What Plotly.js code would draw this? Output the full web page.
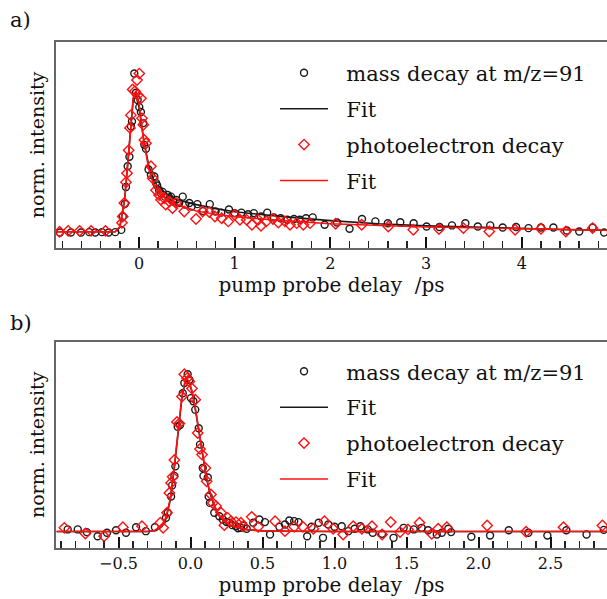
<!DOCTYPE html>
<html>
<head>
<meta charset="utf-8">
<script src="https://cdn.plot.ly/plotly-3.0.1.min.js"></script>
<style>html,body{margin:0;padding:0;background:#fff;}#chart{width:607px;height:599px;}</style>
</head>
<body>
<div id="chart"></div>
<script>
// ---- Panel a) data ----
var aMassX = [-0.826,-0.711,-0.606,-0.519,-0.456,-0.387,-0.317,-0.248,-0.185,-0.17,-0.146,-0.136,-0.118,-0.10,-0.084,-0.073,-0.049,-0.031,-0.014,0.003,0.02,0.045,0.056,0.073,0.10,0.125,0.16,0.178,0.19,0.21,0.23,0.247,0.27,0.30,0.32,0.334,0.36,0.387,0.42,0.457,0.48,0.526,0.55,0.61,0.67,0.74,0.80,0.86,0.94,1.0,1.07,1.14,1.20,1.275,1.34,1.41,1.48,1.55,1.62,1.68,1.745,1.815,1.94,2.07,2.20,2.33,2.47,2.60,2.73,2.87,3.005,3.14,3.27,3.41,3.54,3.67,3.80,3.94,4.07,4.20,4.33,4.47,4.60,4.74,4.86];
var aMassY = [-0.004,-0.004,-0.004,-0.002,-0.004,-0.002,-0.004,-0.002,0.012,0.096,0.175,0.28,0.41,0.47,0.66,0.69,0.99,0.87,0.825,0.78,0.75,0.68,0.544,0.52,0.39,0.356,0.346,0.305,0.29,0.262,0.24,0.25,0.22,0.23,0.21,0.22,0.19,0.20,0.18,0.22,0.17,0.18,0.158,0.173,0.13,0.173,0.127,0.12,0.14,0.117,0.12,0.11,0.117,0.096,0.12,0.09,0.085,0.075,0.08,0.075,0.085,0.09,0.044,0.058,0.019,0.08,0.065,0.054,0.06,0.054,0.033,0.03,0.04,0.054,0.033,0.04,0.027,0.03,0.023,0.027,0.027,0.008,0.002,0.027,-0.004];
var aMassFitX = [-0.87,-0.25,-0.20,-0.15,-0.10,-0.06,-0.04,0.0,0.05,0.10,0.15,0.20,0.30,0.40,0.60,0.80,1.0,1.5,2.0,2.5,3.0,3.5,4.0,4.5,4.9];
var aMassFitY = [0,0,0.03,0.20,0.55,0.83,0.87,0.78,0.57,0.42,0.33,0.28,0.23,0.20,0.17,0.145,0.125,0.095,0.07,0.05,0.037,0.028,0.02,0.013,0.01];
var aPeX = [-0.83,-0.74,-0.62,-0.50,-0.35,-0.178,-0.17,-0.153,-0.136,-0.125,-0.108,-0.094,-0.084,-0.066,-0.042,-0.021,-0.014,0.003,0.021,0.031,0.045,0.056,0.073,0.125,0.143,0.178,0.21,0.23,0.264,0.28,0.317,0.35,0.387,0.473,0.596,0.666,0.735,0.794,0.864,0.933,1.0,1.055,1.125,1.18,1.245,1.275,1.33,1.40,1.456,1.525,1.578,1.648,1.717,1.787,2.055,2.327,2.605,2.866,3.135,3.39,3.66,3.93,4.20,4.46,4.74];
var aPeY = [0.0,0.006,0.006,0.006,0.006,0.056,0.096,0.18,0.31,0.367,0.51,0.65,0.73,0.89,0.88,0.95,0.856,0.99,0.835,0.71,0.67,0.575,0.554,0.41,0.335,0.26,0.23,0.20,0.21,0.17,0.19,0.148,0.18,0.127,0.08,0.127,0.123,0.096,0.085,0.065,0.106,0.075,0.075,0.044,0.075,0.038,0.065,0.08,0.058,0.065,0.044,0.054,0.044,0.054,0.05,0.044,0.033,0.0125,0.017,0.023,0.002,0.0125,0.019,0.002,0.023];
var aPeFitX = [-0.87,-0.25,-0.20,-0.15,-0.10,-0.06,-0.03,0.0,0.05,0.10,0.15,0.20,0.30,0.40,0.60,0.80,1.0,1.5,2.0,2.5,3.0,3.5,4.0,4.5,4.9];
var aPeFitY = [0,0,0.03,0.20,0.55,0.84,0.88,0.80,0.57,0.40,0.30,0.25,0.20,0.17,0.13,0.11,0.095,0.07,0.05,0.04,0.03,0.025,0.02,0.014,0.01];

// ---- Panel b) data ----
var bMassX = [-0.853,-0.783,-0.72,-0.645,-0.58,-0.517,-0.448,-0.378,-0.31,-0.247,-0.17,-0.158,-0.135,-0.128,-0.112,-0.105,-0.089,-0.073,-0.054,-0.043,-0.02,-0.008,0.003,0.02,0.033,0.057,0.066,0.085,0.09,0.12,0.126,0.135,0.165,0.2,0.224,0.25,0.27,0.29,0.316,0.33,0.35,0.37,0.39,0.436,0.478,0.517,0.552,0.617,0.656,0.686,0.72,0.75,0.81,0.84,0.89,0.92,0.957,1.0,1.05,1.096,1.14,1.18,1.23,1.265,1.33,1.41,1.48,1.55,1.605,1.65,1.71,1.745,1.79,1.81,1.95,2.08,2.21,2.346,2.478,2.61,2.75,2.87];
var bMassY = [0.013,0.013,-0.004,-0.03,-0.008,0.008,-0.008,0.027,0.002,0.027,0.086,0.118,0.22,0.29,0.35,0.41,0.66,0.67,0.87,0.935,0.99,0.955,0.84,0.82,0.767,0.65,0.547,0.40,0.35,0.34,0.22,0.18,0.118,0.096,0.075,0.06,0.055,0.04,0.033,0.02,0.023,0.035,0.017,0.055,0.075,0.059,-0.019,0.03,0.044,0.069,0.065,0.059,-0.03,0.03,0.055,-0.04,0.044,0.03,0.033,0.002,0.017,0.033,0.013,-0.008,-0.015,-0.04,0.023,0.013,0.023,0.008,-0.019,-0.008,0.017,-0.004,-0.033,-0.025,0.008,-0.008,-0.025,0.008,-0.019,0.01];
var bMassFitX = [-0.93,-0.30,-0.25,-0.20,-0.17,-0.14,-0.11,-0.08,-0.06,-0.04,-0.025,-0.01,0.01,0.03,0.05,0.07,0.09,0.11,0.13,0.15,0.18,0.21,0.25,0.30,0.40,0.50,0.70,1.0,2.9];
var bMassFitY = [0,0,0.005,0.03,0.08,0.20,0.42,0.67,0.84,0.93,0.955,0.94,0.88,0.79,0.68,0.56,0.44,0.34,0.26,0.20,0.13,0.085,0.05,0.028,0.01,0.004,0.001,0,0];
var bPeX = [-0.876,-0.73,-0.6,-0.47,-0.337,-0.21,-0.19,-0.163,-0.147,-0.135,-0.124,-0.112,-0.094,-0.078,-0.059,-0.043,-0.024,-0.008,0.01,0.033,0.05,0.066,0.08,0.103,0.112,0.142,0.154,0.177,0.212,0.235,0.258,0.28,0.316,0.35,0.367,0.425,0.47,0.587,0.656,0.72,0.78,0.853,0.93,0.99,1.06,1.13,1.19,1.26,1.33,1.39,1.455,1.51,1.59,1.675,1.72,1.78,2.06,2.33,2.59,2.86];
var bPeY = [0.023,-0.013,-0.03,0.027,0.033,0.055,0.023,0.118,0.243,0.306,0.344,0.45,0.69,0.68,0.85,0.99,0.965,0.945,0.90,0.83,0.62,0.52,0.484,0.40,0.316,0.233,0.18,0.16,0.118,0.04,0.086,0.065,0.059,0.055,0.033,0.092,0.03,0.065,0.002,0.03,0.03,0.017,0.065,0.017,-0.019,0.033,0.017,0.033,-0.019,0.059,-0.004,0.013,0.055,-0.015,0.017,0.027,0.038,-0.002,0.027,0.038];
var bPeFitX = [-0.93,-0.30,-0.25,-0.20,-0.17,-0.14,-0.11,-0.08,-0.06,-0.04,-0.025,-0.01,0.01,0.03,0.05,0.07,0.09,0.11,0.13,0.15,0.18,0.21,0.25,0.30,0.40,0.50,0.70,1.0,2.9];
var bPeFitY = [0,0,0.006,0.035,0.09,0.21,0.43,0.68,0.85,0.94,0.96,0.945,0.885,0.795,0.685,0.565,0.445,0.345,0.265,0.205,0.135,0.088,0.052,0.03,0.011,0.004,0.001,0,0];

var names = ['mass decay at m/z=91','Fit','photoelectron decay','Fit'];
var FONT = 'DejaVu Serif';
var BLACK = '#1a1a1a', RED = '#ff1010';
var GAP = '\u00a0\u00a0'; // extra gap between legend symbol and label

function mk(x, y, xa, ya, leg, i) {
  var isFit = (i % 2 === 1);
  var col = (i < 2) ? BLACK : RED;
  var t = {x: x, y: y, xaxis: xa, yaxis: ya, legend: leg, legendgroup: leg + i, name: GAP + names[i], type: 'scatter'};
  if (isFit) {
    t.mode = 'lines';
    t.line = {color: col, width: 1.6};
  } else {
    t.mode = 'markers';
    t.marker = (i === 0) ? {symbol: 'circle-open', size: 7, color: col, line: {width: 1.4, color: col}}
                         : {symbol: 'diamond-open', size: 8, color: col, line: {width: 1.4, color: col}};
  }
  return t;
}

var data = [
  mk(aMassX, aMassY, 'x', 'y', 'legend', 0),
  mk(aMassFitX, aMassFitY, 'x', 'y', 'legend', 1),
  mk(aPeX, aPeY, 'x', 'y', 'legend', 2),
  mk(aPeFitX, aPeFitY, 'x', 'y', 'legend', 3),
  mk(bMassX, bMassY, 'x2', 'y2', 'legend2', 0),
  mk(bMassFitX, bMassFitY, 'x2', 'y2', 'legend2', 1),
  mk(bPeX, bPeY, 'x2', 'y2', 'legend2', 2),
  mk(bPeFitX, bPeFitY, 'x2', 'y2', 'legend2', 3)
];

function xax(anchor, range, dtick, minor, fmt) {
  return {
    anchor: anchor, domain: [0, 1], range: range,
    showline: true, linecolor: '#666', linewidth: 2, mirror: true,
    ticks: 'inside', ticklen: 11, tickwidth: 2, tickcolor: '#111',
    tick0: 0, dtick: dtick, tickformat: fmt,
    minor: {ticks: 'inside', dtick: minor, tick0: 0, ticklen: 7, tickwidth: 1.5, tickcolor: '#222'},
    showgrid: false, zeroline: false,
    tickfont: {family: FONT, size: 16, color: '#111'},
    title: {text: 'pump probe delay  /ps', font: {family: FONT, size: 20, color: '#111'}, standoff: 6}
  };
}
function yax(anchor, domain, range) {
  return {
    anchor: anchor, domain: domain, range: range,
    showline: true, linecolor: '#666', linewidth: 2, mirror: false,
    ticks: '', showticklabels: false, showgrid: false, zeroline: false,
    title: {text: 'norm. intensity', font: {family: FONT, size: 19, color: '#111'}, standoff: 4}
  };
}
function leg(y) {
  return {x: 0.3975, y: y, xanchor: 'left', yanchor: 'top', bgcolor: 'rgba(0,0,0,0)',
          font: {family: FONT, size: 21, color: '#111'}, itemwidth: 48,
          traceorder: 'grouped', tracegroupgap: 5.6};
}

var layout = {
  width: 607, height: 599,
  margin: {l: 56, r: 0, t: 42, b: 50.5},
  paper_bgcolor: '#fff', plot_bgcolor: '#fff',
  font: {family: FONT, color: '#111'},
  showlegend: true,
  xaxis: xax('y', [-0.867, 4.89], 1, 0.2, 'd'),
  yaxis: yax('x', [0.5933, 1], [-0.1, 1.1875]),
  xaxis2: xax('y2', [-0.934, 2.892], 0.5, 0.1, '.1f'),
  yaxis2: yax('x2', [0, 0.4077], [-0.104, 1.195]),
  legend: leg(0.979),
  legend2: leg(0.389),
  annotations: [
    {text: 'a)', xref: 'paper', yref: 'paper', x: -0.088, y: 1.0434, xanchor: 'left', yanchor: 'middle', showarrow: false, font: {family: FONT, size: 21, color: '#111'}},
    {text: 'b)', xref: 'paper', yref: 'paper', x: -0.088, y: 0.4452, xanchor: 'left', yanchor: 'middle', showarrow: false, font: {family: FONT, size: 21, color: '#111'}}
  ]
};

Plotly.newPlot('chart', data, layout, {displayModeBar: false, staticPlot: true});
</script>
</body>
</html>
